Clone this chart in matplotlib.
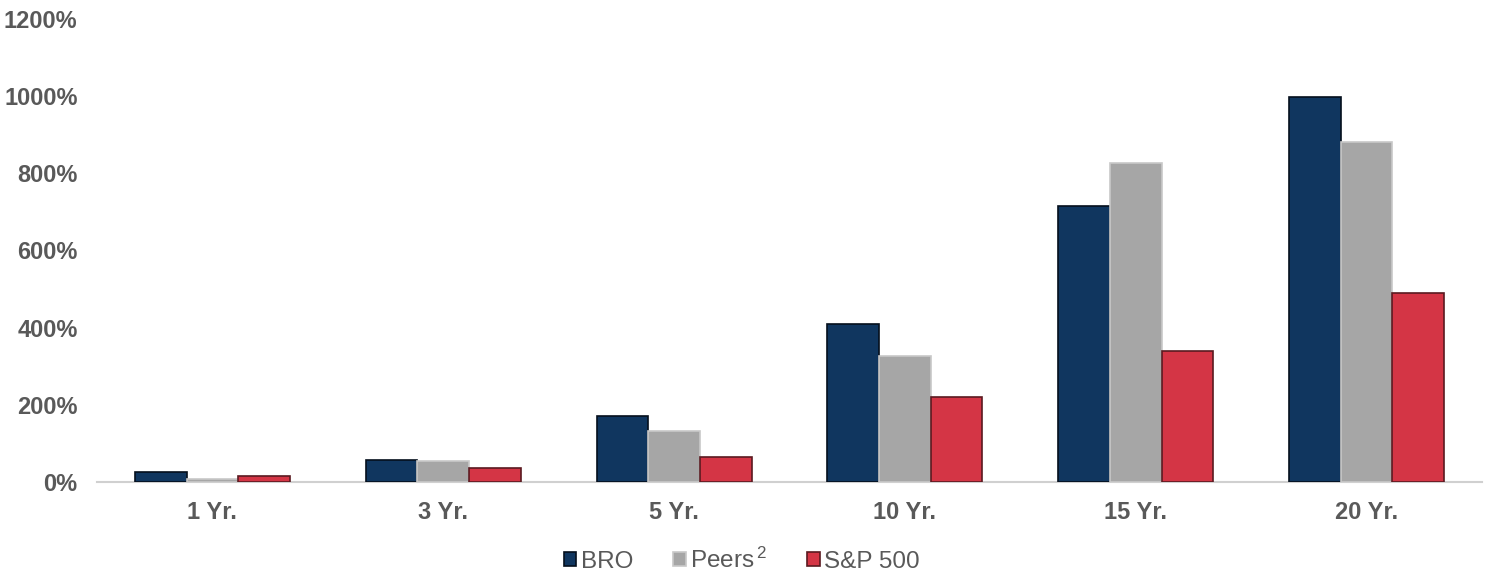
import numpy as np
import matplotlib
matplotlib.use("Agg")
import matplotlib.pyplot as plt
from matplotlib.ticker import FuncFormatter

plt.rcParams["font.family"] = ["Liberation Sans", "DejaVu Sans"]
plt.rcParams["mathtext.fontset"] = "custom"
plt.rcParams["mathtext.rm"] = "Liberation Sans"
plt.rcParams["mathtext.default"] = "rm"

periods = ["1 Yr.", "3 Yr.", "5 Yr.", "10 Yr.", "15 Yr.", "20 Yr."]
bro = [27, 57, 171, 409, 715, 998]
peers = [8, 54, 132, 326, 826, 881]
sp500 = [16, 37, 65, 220, 339, 491]

series = [
    ("BRO", bro, "#10365f", "#050f1c"),
    ("Peers$^{\\,2}$", peers, "#a6a6a6", "#c8c8c8"),
    ("S&P 500", sp500, "#d43545", "#5a1a20"),
]

TXT = "#595959"

fig = plt.figure(figsize=(14.93, 5.74), dpi=100)
ax = fig.add_axes([97 / 1493, 1 - 482 / 574, (1482 - 97) / 1493, (482 - 19) / 574])

x = np.arange(len(periods))
w = 0.224
for i, (name, vals, color, edge) in enumerate(series):
    ax.bar(x + (i - 1) * w, vals, w, color=color, edgecolor=edge,
           linewidth=1.2, label=name, zorder=3)

ax.set_xlim(-0.5, len(periods) - 0.5)
ax.set_ylim(0, 1200)
ax.set_yticks(range(0, 1201, 200))
ax.yaxis.set_major_formatter(FuncFormatter(lambda v, _: f"{v:.0f}%"))
ax.set_xticks(x)
ax.set_xticklabels(periods)

for s in ["top", "right", "left"]:
    ax.spines[s].set_visible(False)
ax.spines["bottom"].set_color("#d0d0d0")
ax.spines["bottom"].set_linewidth(1.5)
ax.tick_params(axis="both", length=0, labelsize=17, labelcolor=TXT)
ax.tick_params(axis="x", pad=14)
ax.tick_params(axis="y", pad=14)
for lab in ax.get_xticklabels() + ax.get_yticklabels():
    lab.set_fontweight("bold")

leg = fig.legend(loc="center", bbox_to_anchor=(0.497, 1 - 560 / 574), ncol=3,
                 frameon=False, fontsize=17.5, handlelength=0.5, handleheight=0.5,
                 handletextpad=0.2, columnspacing=1.65)
for t in leg.get_texts():
    t.set_color(TXT)

fig.savefig("out.png", dpi=100)
